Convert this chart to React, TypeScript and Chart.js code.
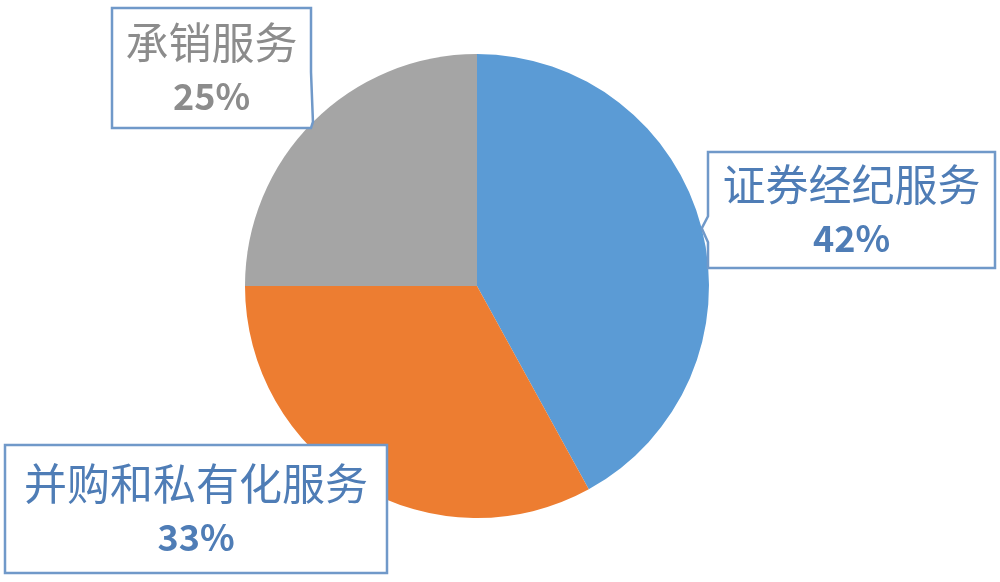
import { useEffect, useRef } from 'react';
import { Chart, registerables } from 'chart.js';

Chart.register(...registerables);

const categories = ['证券经纪服务', '并购和私有化服务', '承销服务'];
const shares = [42, 33, 25];
const sliceColors = ['#5B9BD5', '#ED7D31', '#A5A5A5'];
const labelColors = ['#4F7DB6', '#4F7DB6', '#8C8C8C'];

// callout boxes (left, top, width, height) for each slice
const calloutBoxes = [
  [708, 152, 287, 116],
  [5, 445, 382, 128],
  [112, 8, 199, 120],
];

const calloutPlugin = {
  id: 'callouts',
  afterDraw(chart: any) {
    const ctx = chart.ctx;
    const meta = chart.getDatasetMeta(0);
    meta.data.forEach((arc: any, i: number) => {
      const [bx, by, bw, bh] = calloutBoxes[i];
      const mid = (arc.startAngle + arc.endAngle) / 2;
      const tx = arc.x + Math.cos(mid) * arc.outerRadius;
      const ty = arc.y + Math.sin(mid) * arc.outerRadius;

      ctx.save();
      ctx.beginPath();
      ctx.moveTo(bx, by);
      ctx.lineTo(bx + bw, by);
      if (tx > bx + bw && ty > by && ty < by + bh) {
        const y1 = Math.max(by, ty - 50);
        ctx.lineTo(bx + bw, y1);
        ctx.lineTo(tx, ty);
        ctx.lineTo(bx + bw, by + bh);
      }
      ctx.lineTo(bx + bw, by + bh);
      ctx.lineTo(bx, by + bh);
      if (tx < bx && ty > by && ty < by + bh) {
        ctx.lineTo(bx, Math.min(by + bh, ty + 14));
        ctx.lineTo(tx, ty);
        ctx.lineTo(bx, Math.max(by, ty - 12));
      }
      ctx.closePath();
      ctx.fillStyle = '#ffffff';
      ctx.fill();
      ctx.strokeStyle = '#7099C9';
      ctx.lineWidth = 2.5;
      ctx.stroke();

      const cx = bx + bw / 2;
      const cy = by + bh / 2;
      ctx.fillStyle = labelColors[i];
      ctx.textAlign = 'center';
      ctx.textBaseline = 'middle';
      ctx.font = '43px "Noto Sans CJK SC", sans-serif';
      ctx.fillText(categories[i], cx, cy - 25);
      ctx.font = 'bold 36px "Noto Sans CJK SC", sans-serif';
      ctx.fillText(shares[i] + '%', cx, cy + 28);
      ctx.restore();
    });
  },
};

export default function App() {
  const chartRef = useRef<HTMLCanvasElement>(null);
  const chartInstance = useRef<Chart | null>(null);

  useEffect(() => {
    document.body.style.margin = '0';
    if (!chartRef.current) return;
    if (chartInstance.current) {
      chartInstance.current.destroy();
    }
    const ctx = chartRef.current.getContext('2d');
    if (!ctx) return;

    chartInstance.current = new Chart(ctx, {
      type: 'pie',
      data: {
        labels: categories,
        datasets: [{
          data: shares,
          backgroundColor: sliceColors,
          borderWidth: 0,
        }],
      },
      options: {
        responsive: false,
        animation: false,
        layout: {
          padding: { top: 54, bottom: 64, left: 245, right: 291 },
        },
        plugins: {
          legend: { display: false },
          tooltip: { enabled: false },
        },
      },
      plugins: [calloutPlugin],
    });

    return () => {
      if (chartInstance.current) {
        chartInstance.current.destroy();
        chartInstance.current = null;
      }
    };
  }, []);

  return (
    <div style={{ width: 1000, height: 582, background: '#ffffff' }}>
      <canvas ref={chartRef} width={1000} height={582} />
    </div>
  );
}
